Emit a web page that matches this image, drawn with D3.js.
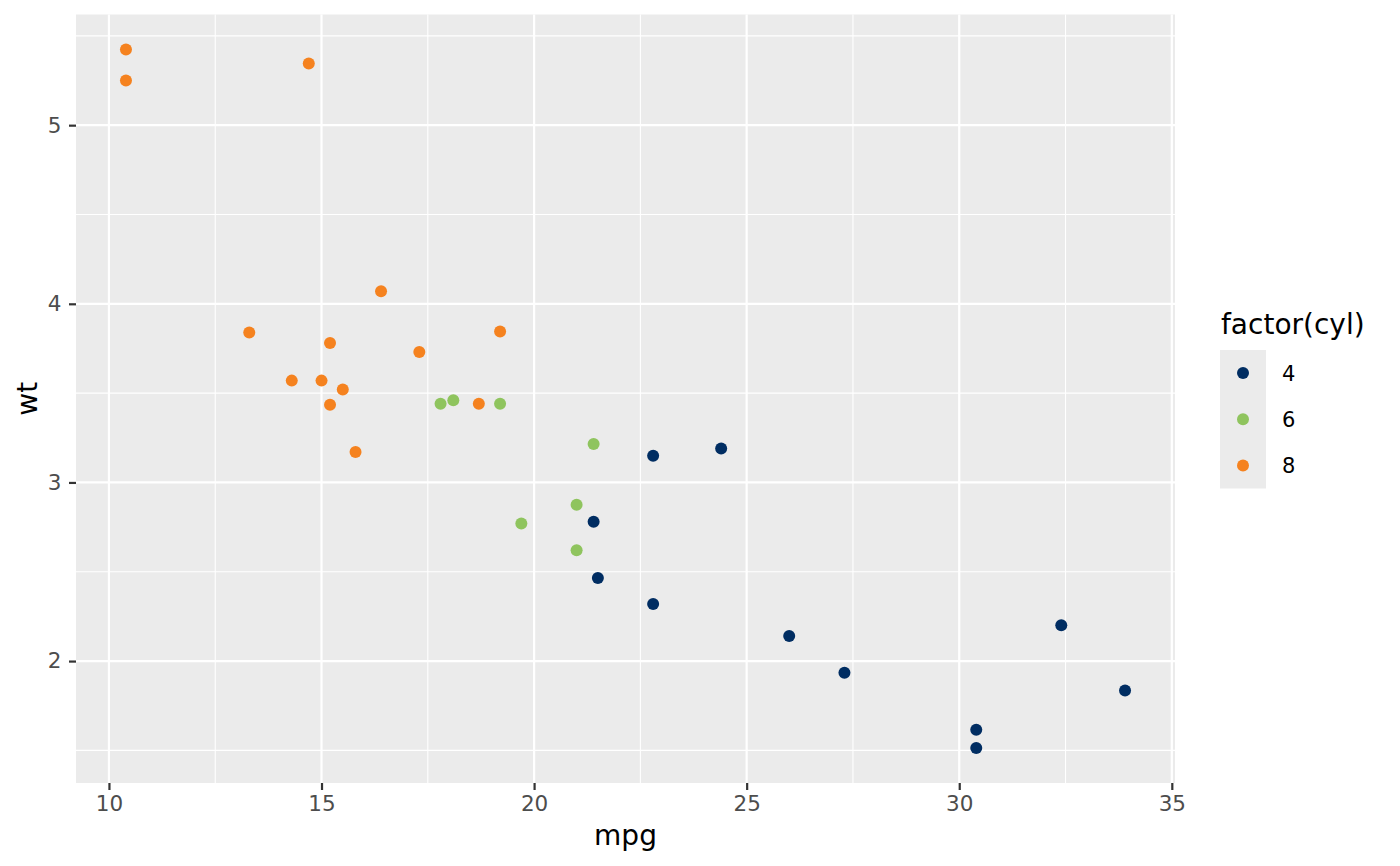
<!DOCTYPE html>
<html><head><meta charset="utf-8">
<script src="https://cdn.jsdelivr.net/npm/d3@7"></script>
<style>body{margin:0;background:#fff}svg{display:block;font-family:"DejaVu Sans",sans-serif}</style>
</head><body><svg id="c" width="1400" height="866"></svg>
<script>
const mpg = [21.0,21.0,22.8,21.4,18.7,18.1,14.3,24.4,22.8,19.2,17.8,16.4,17.3,15.2,10.4,10.4,14.7,32.4,30.4,33.9,21.5,15.5,15.2,13.3,19.2,27.3,26.0,30.4,15.8,19.7,15.0,21.4];
const wt = [2.620,2.875,2.320,3.215,3.440,3.460,3.570,3.190,3.150,3.440,3.440,4.070,3.730,3.780,5.250,5.424,5.345,2.200,1.615,1.835,2.465,3.520,3.435,3.840,3.845,1.935,2.140,1.513,3.170,2.770,3.570,2.780];
const cyl = [6,6,4,6,8,6,8,4,4,6,6,8,8,8,8,8,8,4,4,4,4,8,8,8,8,4,4,4,8,6,8,4];
const levels = ["4","6","8"];
const palette = ["#002D62","#8FC45E","#F5821F"];
const xTicks = [10,15,20,25,30,35];
const yTicks = [2,3,4,5];

const svg = d3.select("#c");
const L=76, R=1175, T=14.5, B=783;
const pad = (a)=>{const e=d3.extent(a),r=e[1]-e[0];return [e[0]-0.05*r,e[1]+0.05*r];};
const x = d3.scaleLinear().domain(pad(mpg)).range([L,R]);
const y = d3.scaleLinear().domain(pad(wt)).range([B,T]);
const color = d3.scaleOrdinal().domain(levels).range(palette);

svg.append("rect").attr("x",L).attr("y",T).attr("width",R-L).attr("height",B-T).attr("fill","#EBEBEB");
const minorX = d3.range(0,xTicks.length-1).map(i=>(xTicks[i]+xTicks[i+1])/2);
const minorY = [1.5,2.5,3.5,4.5,5.5];
const g = svg.append("g");
g.selectAll(".mx").data(minorX).join("line").attr("x1",d=>x(d)).attr("x2",d=>x(d)).attr("y1",T).attr("y2",B).attr("stroke","#fff").attr("stroke-width",1.1);
g.selectAll(".my").data(minorY.filter(d=>y(d)>T&&y(d)<B)).join("line").attr("y1",d=>y(d)).attr("y2",d=>y(d)).attr("x1",L).attr("x2",R).attr("stroke","#fff").attr("stroke-width",1.1);
g.selectAll(".Mx").data(xTicks).join("line").attr("x1",d=>x(d)).attr("x2",d=>x(d)).attr("y1",T).attr("y2",B).attr("stroke","#fff").attr("stroke-width",2.2);
g.selectAll(".My").data(yTicks).join("line").attr("y1",d=>y(d)).attr("y2",d=>y(d)).attr("x1",L).attr("x2",R).attr("stroke","#fff").attr("stroke-width",2.2);

const xa = svg.append("g").attr("transform",`translate(0,${B})`).call(d3.axisBottom(x).tickValues(xTicks).tickFormat(d3.format("d")).tickSize(7).tickPadding(6));
const ya = svg.append("g").attr("transform",`translate(${L},0)`).call(d3.axisLeft(y).tickValues(yTicks).tickFormat(d3.format("d")).tickSize(7).tickPadding(7.5));
[xa,ya].forEach(a=>{a.attr("font-family",null).attr("font-size",null);a.select(".domain").remove();a.selectAll(".tick line").attr("stroke","#333").attr("stroke-width",2.2);
 a.selectAll(".tick text").attr("fill","#4D4D4D").style("font-size","21.5px").style("font-family","DejaVu Sans");});

svg.append("g").selectAll("circle").data(mpg.map((m,i)=>({m,w:wt[i],c:String(cyl[i])}))).join("circle")
 .attr("cx",d=>x(d.m)).attr("cy",d=>y(d.w)).attr("r",6).attr("fill",d=>color(d.c));

svg.append("text").attr("x",(L+R)/2).attr("y",845).attr("text-anchor","middle").style("font-size","28px").text("mpg");
svg.append("text").attr("transform",`translate(36.5,${(T+B)/2}) rotate(-90)`).attr("text-anchor","middle").style("font-size","28px").text("wt");

const lg = svg.append("g");
lg.append("text").attr("x",1221).attr("y",334).style("font-size","28px").text("factor(cyl)");
lg.append("rect").attr("x",1220).attr("y",350).attr("width",46).attr("height",138.5).attr("fill","#EBEBEB");
levels.forEach((l,i)=>{
  const cy = 350+23+i*46.2;
  lg.append("circle").attr("cx",1243).attr("cy",cy).attr("r",6).attr("fill",color(l));
  lg.append("text").attr("x",1282).attr("y",cy).attr("dy","0.36em").style("font-size","21px").text(l);
});
</script></body></html>
